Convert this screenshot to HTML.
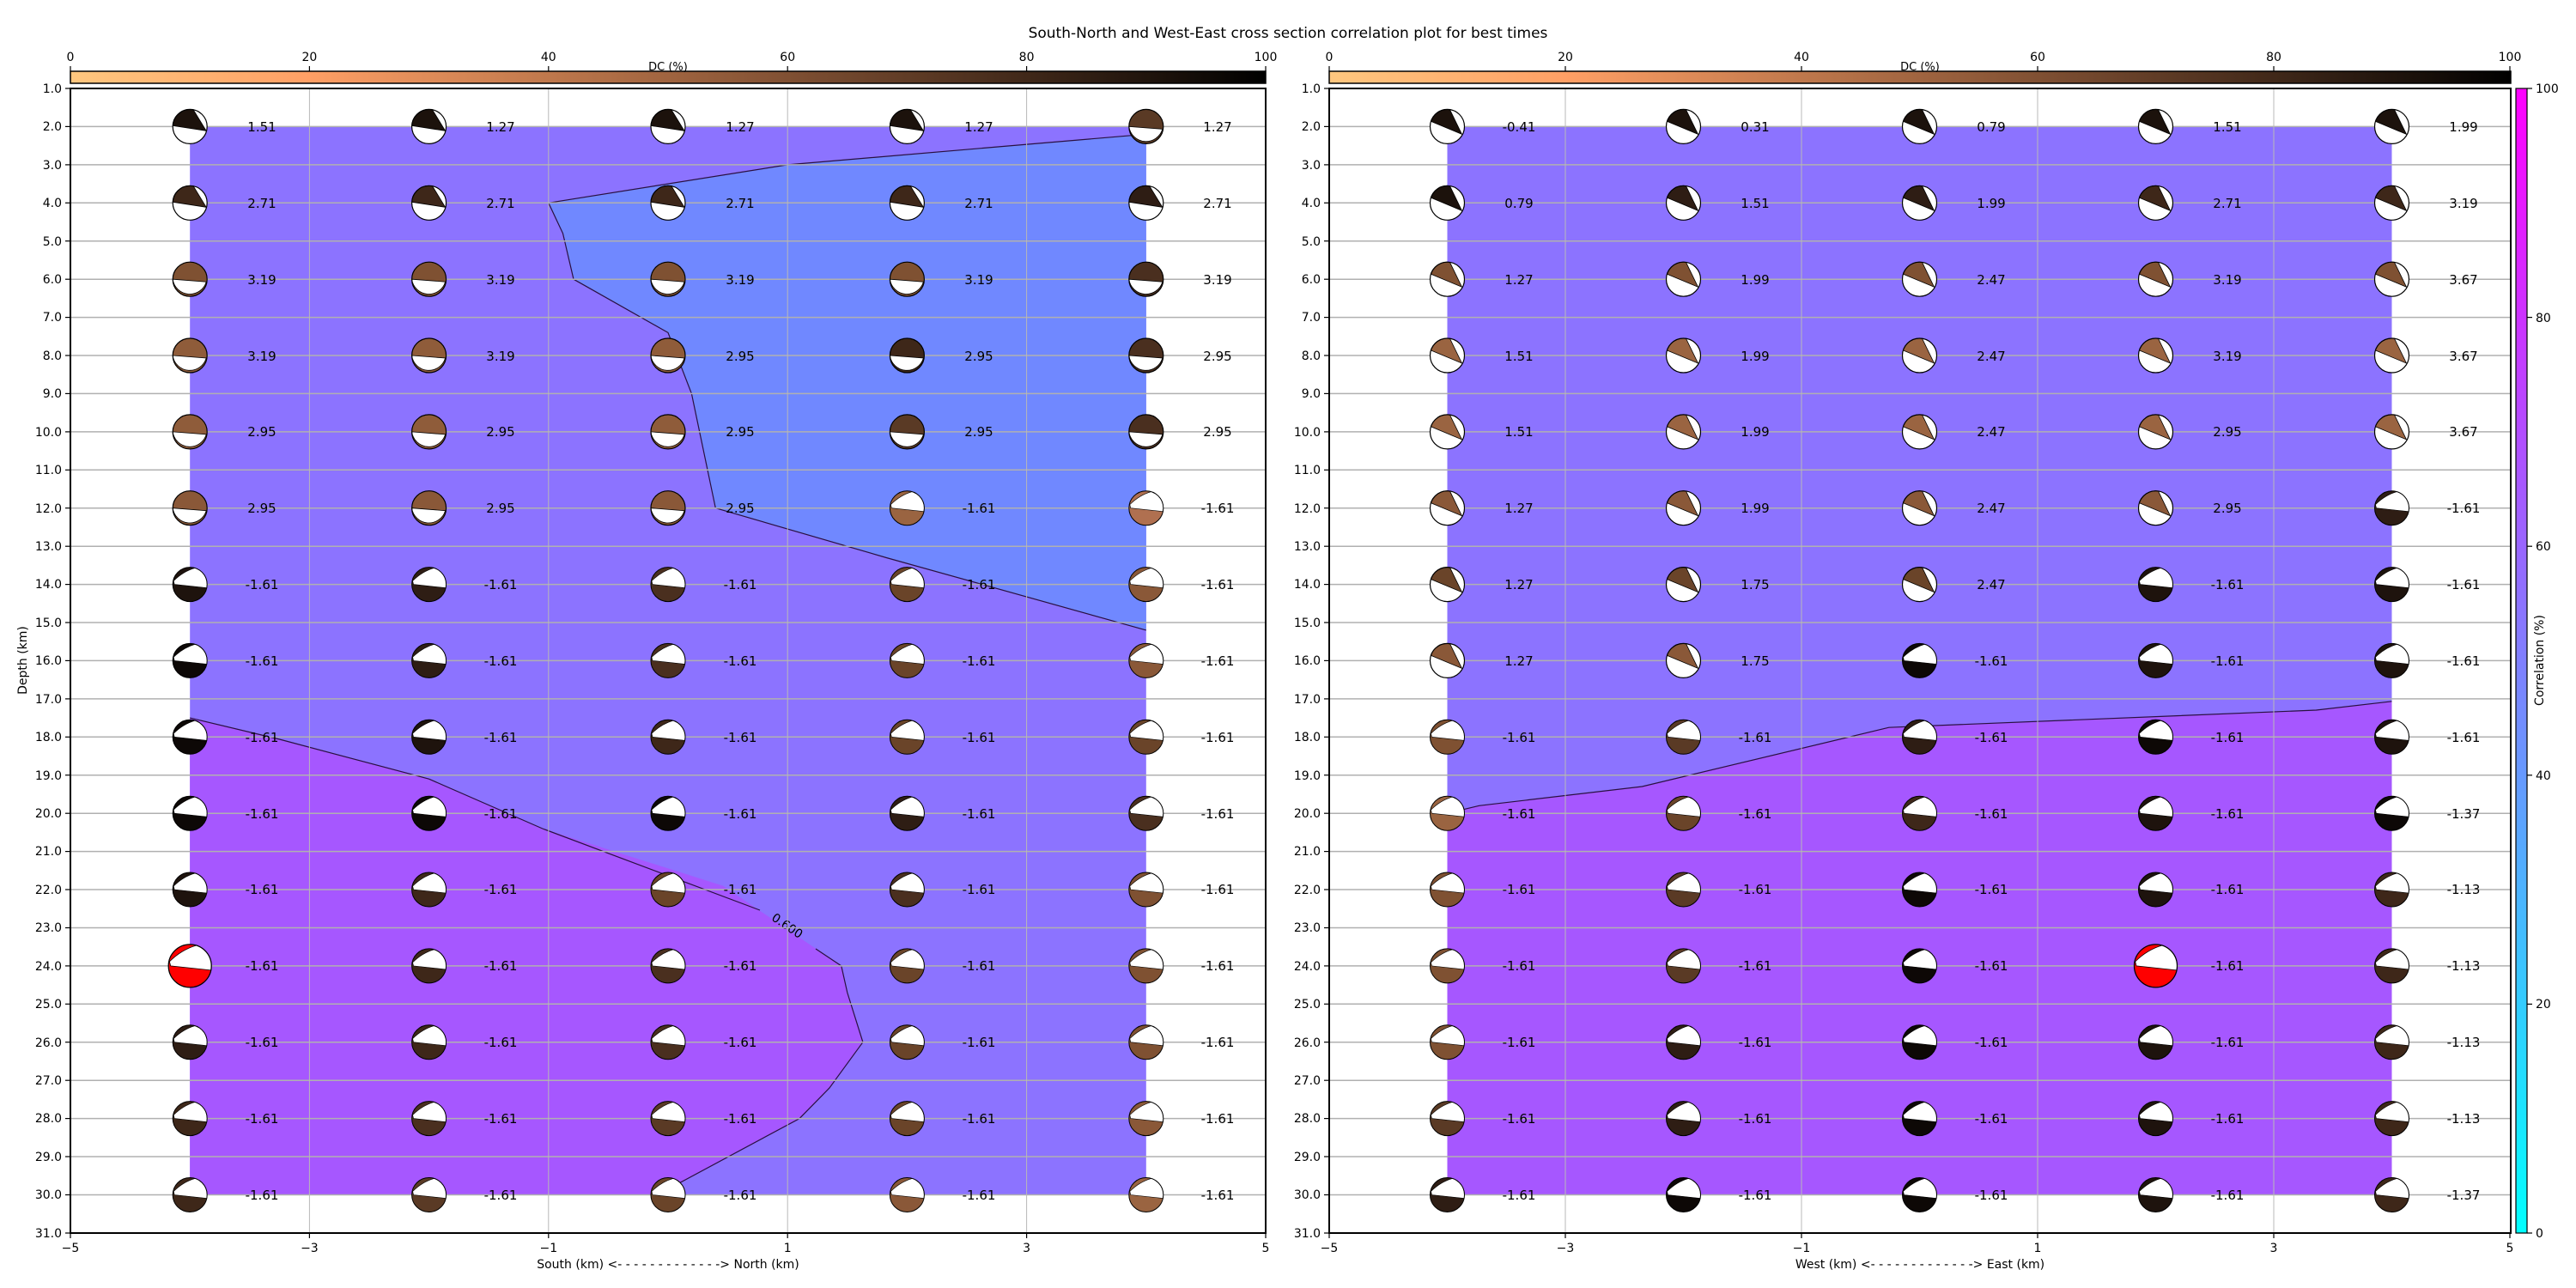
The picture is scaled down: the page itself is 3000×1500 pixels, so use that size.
<!DOCTYPE html>
<html><head><meta charset="utf-8"><style>
html,body{margin:0;padding:0;background:#fff}
svg{display:block}
text{font-family:"DejaVu Sans","Liberation Sans",sans-serif;fill:#000}
</style></head><body>
<svg width="3000" height="1500" viewBox="0 0 3000 1500" xmlns="http://www.w3.org/2000/svg">
<defs>
<linearGradient id="copper" x1="0" x2="1" y1="0" y2="0">
<stop offset="0" stop-color="#ffc77f"/><stop offset="0.2" stop-color="#ff9f65"/><stop offset="0.4" stop-color="#bf784c"/><stop offset="0.6" stop-color="#805033"/><stop offset="0.8" stop-color="#402819"/><stop offset="1" stop-color="#000"/>
</linearGradient>
<linearGradient id="cool" x1="0" x2="0" y1="1" y2="0">
<stop offset="0" stop-color="#00ffff"/><stop offset="1" stop-color="#ff00ff"/>
</linearGradient>
<g id="A"><circle r="20" fill="#fff"/><path d="M-20,-1 L19,5 L4,-19.6 A20,20 0 0,0 -20,-1Z" fill="currentColor" stroke="#000" stroke-width="0.8"/><circle r="20" fill="none" stroke="#000" stroke-width="1.2"/></g>
<g id="E"><circle r="20" fill="#fff"/><path d="M-19,-6 L17,9 L3,-19.8 A20,20 0 0,0 -19,-6Z" fill="currentColor" stroke="#000" stroke-width="0.8"/><circle r="20" fill="none" stroke="#000" stroke-width="1.2"/></g>
<g id="B"><circle r="20" fill="currentColor"/><path d="M-20,0 L19,3 A20,20 0 0,1 -20,0Z" fill="#fff" stroke="#000" stroke-width="0.8"/><circle r="20" fill="none" stroke="#000" stroke-width="1.2"/></g>
<g id="C"><circle r="20" fill="currentColor"/><path d="M-19,-4 Q-8,-15 6,-19.1 A20,20 0 0,1 19.6,4 L-18,0 Z" fill="#fff" stroke="#000" stroke-width="0.6"/><circle r="20" fill="none" stroke="#000" stroke-width="1"/></g>
</defs>

<text x="1500" y="44" font-size="17" text-anchor="middle">South-North and West-East cross section correlation plot for best times</text>

<!-- ===== LEFT PLOT ===== -->
<rect x="221.2" y="147.4" width="1113.6" height="1244.1" fill="#8c73ff"/>
<polygon points="638.8,236.3 917.2,191.9 1334.8,156.3 1334.8,733.9 1032.3,649.5 833.3,591.7 805.4,458.4 778,387.4 668,325.2 655.5,271.8" fill="#7088ff"/>
<polygon points="221.2,836.1 325.6,861 499.6,907.2 631.8,965 842,1031.6 979.8,1124.9 986.8,1156 1004.9,1213.7 965.9,1267.1 931.1,1302.6 790.5,1378.1 778,1391.5 221.2,1391.5" fill="#a657ff"/>
<g fill="none" stroke="#2a1040" stroke-width="1.2">
<polyline points="638.8,236.3 917.2,191.9 1334.8,156.3"/>
<polyline points="638.8,236.3 655.5,271.8 668,325.2 778,387.4 805.4,458.4 833.3,591.7 1032.3,649.5 1334.8,733.9"/>
<polyline points="221.2,836.1 325.6,861 499.6,907.2 631.8,965 885,1060"/>
<polyline points="950,1105 979.8,1124.9 986.8,1156 1004.9,1213.7 965.9,1267.1 931.1,1302.6 790.5,1378.1 778,1391.5"/>
</g>
<text x="917" y="1083" font-size="14" text-anchor="middle" transform="rotate(34 917 1078)">0.600</text>
<!-- grid -->
<g stroke="#b0b0b0" stroke-width="1.5">
<line x1="82" x2="1474" y1="147.4" y2="147.4"/><line x1="82" x2="1474" y1="191.9" y2="191.9"/><line x1="82" x2="1474" y1="236.3" y2="236.3"/><line x1="82" x2="1474" y1="280.7" y2="280.7"/><line x1="82" x2="1474" y1="325.2" y2="325.2"/><line x1="82" x2="1474" y1="369.6" y2="369.6"/><line x1="82" x2="1474" y1="414" y2="414"/><line x1="82" x2="1474" y1="458.4" y2="458.4"/><line x1="82" x2="1474" y1="502.9" y2="502.9"/><line x1="82" x2="1474" y1="547.3" y2="547.3"/><line x1="82" x2="1474" y1="591.7" y2="591.7"/><line x1="82" x2="1474" y1="636.2" y2="636.2"/><line x1="82" x2="1474" y1="680.6" y2="680.6"/><line x1="82" x2="1474" y1="725" y2="725"/><line x1="82" x2="1474" y1="769.4" y2="769.4"/><line x1="82" x2="1474" y1="813.9" y2="813.9"/><line x1="82" x2="1474" y1="858.3" y2="858.3"/><line x1="82" x2="1474" y1="902.7" y2="902.7"/><line x1="82" x2="1474" y1="947.2" y2="947.2"/><line x1="82" x2="1474" y1="991.6" y2="991.6"/><line x1="82" x2="1474" y1="1036" y2="1036"/><line x1="82" x2="1474" y1="1080.5" y2="1080.5"/><line x1="82" x2="1474" y1="1124.9" y2="1124.9"/><line x1="82" x2="1474" y1="1169.3" y2="1169.3"/><line x1="82" x2="1474" y1="1213.7" y2="1213.7"/><line x1="82" x2="1474" y1="1258.2" y2="1258.2"/><line x1="82" x2="1474" y1="1302.6" y2="1302.6"/><line x1="82" x2="1474" y1="1347" y2="1347"/><line x1="82" x2="1474" y1="1391.5" y2="1391.5"/>
</g>
<g stroke="#b8b8b8" stroke-width="1">
<line x1="360.4" x2="360.4" y1="103" y2="1436"/><line x1="638.8" x2="638.8" y1="103" y2="1436"/><line x1="917.2" x2="917.2" y1="103" y2="1436"/><line x1="1195.6" x2="1195.6" y1="103" y2="1436"/>
</g>
<!-- balls left -->
<use href="#A" x="221.2" y="147.4" style="color:#1c120c"/><use href="#A" x="499.6" y="147.4" style="color:#1c120c"/><use href="#A" x="778" y="147.4" style="color:#1c120c"/><use href="#A" x="1056.4" y="147.4" style="color:#1c120c"/><use href="#B" x="1334.8" y="147.4" style="color:#5a3a25"/>
<use href="#A" x="221.2" y="236.3" style="color:#3e2719"/><use href="#A" x="499.6" y="236.3" style="color:#3e2719"/><use href="#A" x="778" y="236.3" style="color:#3e2719"/><use href="#A" x="1056.4" y="236.3" style="color:#3e2719"/><use href="#A" x="1334.8" y="236.3" style="color:#2e1d14"/>
<use href="#B" x="221.2" y="325.2" style="color:#7f5132"/><use href="#B" x="499.6" y="325.2" style="color:#7f5132"/><use href="#B" x="778" y="325.2" style="color:#7f5132"/><use href="#B" x="1056.4" y="325.2" style="color:#7f5132"/><use href="#B" x="1334.8" y="325.2" style="color:#4a2f1f"/>
<use href="#B" x="221.2" y="414" style="color:#8f5c3a"/><use href="#B" x="499.6" y="414" style="color:#8f5c3a"/><use href="#B" x="778" y="414" style="color:#8f5c3a"/><use href="#B" x="1056.4" y="414" style="color:#3e2719"/><use href="#B" x="1334.8" y="414" style="color:#4a2f1f"/>
<use href="#B" x="221.2" y="502.9" style="color:#8f5c3a"/><use href="#B" x="499.6" y="502.9" style="color:#8f5c3a"/><use href="#B" x="778" y="502.9" style="color:#8f5c3a"/><use href="#B" x="1056.4" y="502.9" style="color:#5a3a25"/><use href="#B" x="1334.8" y="502.9" style="color:#4a2f1f"/>
<use href="#B" x="221.2" y="591.7" style="color:#8a5838"/><use href="#B" x="499.6" y="591.7" style="color:#8a5838"/><use href="#B" x="778" y="591.7" style="color:#8a5838"/><use href="#C" x="1056.4" y="591.7" style="color:#9a6441"/><use href="#C" x="1334.8" y="591.7" style="color:#b07050"/>
<use href="#C" x="221.2" y="680.6" style="color:#1e130d"/><use href="#C" x="499.6" y="680.6" style="color:#2e1d14"/><use href="#C" x="778" y="680.6" style="color:#4a2f1f"/><use href="#C" x="1056.4" y="680.6" style="color:#6a4429"/><use href="#C" x="1334.8" y="680.6" style="color:#8a5838"/>
<use href="#C" x="221.2" y="769.4" style="color:#0d0806"/><use href="#C" x="499.6" y="769.4" style="color:#2e1d14"/><use href="#C" x="778" y="769.4" style="color:#4a2f1f"/><use href="#C" x="1056.4" y="769.4" style="color:#6a4429"/><use href="#C" x="1334.8" y="769.4" style="color:#8a5838"/>
<use href="#C" x="221.2" y="858.3" style="color:#0d0806"/><use href="#C" x="499.6" y="858.3" style="color:#1e130d"/><use href="#C" x="778" y="858.3" style="color:#3e2719"/><use href="#C" x="1056.4" y="858.3" style="color:#6a4429"/><use href="#C" x="1334.8" y="858.3" style="color:#6a4429"/>
<use href="#C" x="221.2" y="947.2" style="color:#0d0806"/><use href="#C" x="499.6" y="947.2" style="color:#0d0806"/><use href="#C" x="778" y="947.2" style="color:#0d0806"/><use href="#C" x="1056.4" y="947.2" style="color:#2e1d14"/><use href="#C" x="1334.8" y="947.2" style="color:#4a2f1f"/>
<use href="#C" x="221.2" y="1036" style="color:#1e130d"/><use href="#C" x="499.6" y="1036" style="color:#3e2719"/><use href="#C" x="778" y="1036" style="color:#6a4429"/><use href="#C" x="1056.4" y="1036" style="color:#4a2f1f"/><use href="#C" x="1334.8" y="1036" style="color:#7f5132"/>
<use href="#C" transform="translate(221.2 1124.9) scale(1.25)" style="color:#ff0000"/><use href="#C" x="499.6" y="1124.9" style="color:#3e2719"/><use href="#C" x="778" y="1124.9" style="color:#4a2f1f"/><use href="#C" x="1056.4" y="1124.9" style="color:#6a4429"/><use href="#C" x="1334.8" y="1124.9" style="color:#7f5132"/>
<use href="#C" x="221.2" y="1213.7" style="color:#2e1d14"/><use href="#C" x="499.6" y="1213.7" style="color:#3e2719"/><use href="#C" x="778" y="1213.7" style="color:#4a2f1f"/><use href="#C" x="1056.4" y="1213.7" style="color:#6a4429"/><use href="#C" x="1334.8" y="1213.7" style="color:#7f5132"/>
<use href="#C" x="221.2" y="1302.6" style="color:#3e2719"/><use href="#C" x="499.6" y="1302.6" style="color:#4a2f1f"/><use href="#C" x="778" y="1302.6" style="color:#5a3a25"/><use href="#C" x="1056.4" y="1302.6" style="color:#6a4429"/><use href="#C" x="1334.8" y="1302.6" style="color:#8a5838"/>
<use href="#C" x="221.2" y="1391.5" style="color:#3e2719"/><use href="#C" x="499.6" y="1391.5" style="color:#5a3a25"/><use href="#C" x="778" y="1391.5" style="color:#6a4429"/><use href="#C" x="1056.4" y="1391.5" style="color:#8a5838"/><use href="#C" x="1334.8" y="1391.5" style="color:#9a6441"/>
<!-- labels left -->
<g font-size="15" text-anchor="middle">
<text x="305" y="153">1.51</text><text x="583" y="153">1.27</text><text x="862" y="153">1.27</text><text x="1140" y="153">1.27</text><text x="1418" y="153">1.27</text>
<text x="305" y="242">2.71</text><text x="583" y="242">2.71</text><text x="862" y="242">2.71</text><text x="1140" y="242">2.71</text><text x="1418" y="242">2.71</text>
<text x="305" y="331">3.19</text><text x="583" y="331">3.19</text><text x="862" y="331">3.19</text><text x="1140" y="331">3.19</text><text x="1418" y="331">3.19</text>
<text x="305" y="420">3.19</text><text x="583" y="420">3.19</text><text x="862" y="420">2.95</text><text x="1140" y="420">2.95</text><text x="1418" y="420">2.95</text>
<text x="305" y="508">2.95</text><text x="583" y="508">2.95</text><text x="862" y="508">2.95</text><text x="1140" y="508">2.95</text><text x="1418" y="508">2.95</text>
<text x="305" y="597">2.95</text><text x="583" y="597">2.95</text><text x="862" y="597">2.95</text><text x="1140" y="597">-1.61</text><text x="1418" y="597">-1.61</text>
<text x="305" y="686">-1.61</text><text x="583" y="686">-1.61</text><text x="862" y="686">-1.61</text><text x="1140" y="686">-1.61</text><text x="1418" y="686">-1.61</text>
<text x="305" y="775">-1.61</text><text x="583" y="775">-1.61</text><text x="862" y="775">-1.61</text><text x="1140" y="775">-1.61</text><text x="1418" y="775">-1.61</text>
<text x="305" y="864">-1.61</text><text x="583" y="864">-1.61</text><text x="862" y="864">-1.61</text><text x="1140" y="864">-1.61</text><text x="1418" y="864">-1.61</text>
<text x="305" y="953">-1.61</text><text x="583" y="953">-1.61</text><text x="862" y="953">-1.61</text><text x="1140" y="953">-1.61</text><text x="1418" y="953">-1.61</text>
<text x="305" y="1041">-1.61</text><text x="583" y="1041">-1.61</text><text x="862" y="1041">-1.61</text><text x="1140" y="1041">-1.61</text><text x="1418" y="1041">-1.61</text>
<text x="305" y="1130">-1.61</text><text x="583" y="1130">-1.61</text><text x="862" y="1130">-1.61</text><text x="1140" y="1130">-1.61</text><text x="1418" y="1130">-1.61</text>
<text x="305" y="1219">-1.61</text><text x="583" y="1219">-1.61</text><text x="862" y="1219">-1.61</text><text x="1140" y="1219">-1.61</text><text x="1418" y="1219">-1.61</text>
<text x="305" y="1308">-1.61</text><text x="583" y="1308">-1.61</text><text x="862" y="1308">-1.61</text><text x="1140" y="1308">-1.61</text><text x="1418" y="1308">-1.61</text>
<text x="305" y="1397">-1.61</text><text x="583" y="1397">-1.61</text><text x="862" y="1397">-1.61</text><text x="1140" y="1397">-1.61</text><text x="1418" y="1397">-1.61</text>
</g>
<rect x="82" y="103" width="1392" height="1333" fill="none" stroke="#000" stroke-width="2"/>
<!-- left DC colorbar -->
<rect x="82" y="83" width="1392" height="14" fill="url(#copper)" stroke="#000" stroke-width="1.5"/>
<g stroke="#000" stroke-width="1.2"><line x1="82" x2="82" y1="77" y2="83"/><line x1="360.4" x2="360.4" y1="77" y2="83"/><line x1="638.8" x2="638.8" y1="77" y2="83"/><line x1="917.2" x2="917.2" y1="77" y2="83"/><line x1="1195.6" x2="1195.6" y1="77" y2="83"/><line x1="1474" x2="1474" y1="77" y2="83"/></g>
<g font-size="14" text-anchor="middle"><text x="82" y="71">0</text><text x="360.4" y="71">20</text><text x="638.8" y="71">40</text><text x="917.2" y="71">60</text><text x="1195.6" y="71">80</text><text x="1474" y="71">100</text></g>
<text x="778" y="82" font-size="13" text-anchor="middle">DC (%)</text>
<!-- left y ticks -->
<g stroke="#000" stroke-width="1.2">
<line x1="76" x2="82" y1="103" y2="103"/><line x1="76" x2="82" y1="147.4" y2="147.4"/><line x1="76" x2="82" y1="191.9" y2="191.9"/><line x1="76" x2="82" y1="236.3" y2="236.3"/><line x1="76" x2="82" y1="280.7" y2="280.7"/><line x1="76" x2="82" y1="325.2" y2="325.2"/><line x1="76" x2="82" y1="369.6" y2="369.6"/><line x1="76" x2="82" y1="414" y2="414"/><line x1="76" x2="82" y1="458.4" y2="458.4"/><line x1="76" x2="82" y1="502.9" y2="502.9"/><line x1="76" x2="82" y1="547.3" y2="547.3"/><line x1="76" x2="82" y1="591.7" y2="591.7"/><line x1="76" x2="82" y1="636.2" y2="636.2"/><line x1="76" x2="82" y1="680.6" y2="680.6"/><line x1="76" x2="82" y1="725" y2="725"/><line x1="76" x2="82" y1="769.4" y2="769.4"/><line x1="76" x2="82" y1="813.9" y2="813.9"/><line x1="76" x2="82" y1="858.3" y2="858.3"/><line x1="76" x2="82" y1="902.7" y2="902.7"/><line x1="76" x2="82" y1="947.2" y2="947.2"/><line x1="76" x2="82" y1="991.6" y2="991.6"/><line x1="76" x2="82" y1="1036" y2="1036"/><line x1="76" x2="82" y1="1080.5" y2="1080.5"/><line x1="76" x2="82" y1="1124.9" y2="1124.9"/><line x1="76" x2="82" y1="1169.3" y2="1169.3"/><line x1="76" x2="82" y1="1213.7" y2="1213.7"/><line x1="76" x2="82" y1="1258.2" y2="1258.2"/><line x1="76" x2="82" y1="1302.6" y2="1302.6"/><line x1="76" x2="82" y1="1347" y2="1347"/><line x1="76" x2="82" y1="1391.5" y2="1391.5"/><line x1="76" x2="82" y1="1436" y2="1436"/>
<line x1="82" x2="82" y1="1436" y2="1442"/><line x1="360.4" x2="360.4" y1="1436" y2="1442"/><line x1="638.8" x2="638.8" y1="1436" y2="1442"/><line x1="917.2" x2="917.2" y1="1436" y2="1442"/><line x1="1195.6" x2="1195.6" y1="1436" y2="1442"/><line x1="1474" x2="1474" y1="1436" y2="1442"/>
</g>
<g font-size="14" text-anchor="end">
<text x="72" y="108">1.0</text><text x="72" y="152">2.0</text><text x="72" y="197">3.0</text><text x="72" y="241">4.0</text><text x="72" y="286">5.0</text><text x="72" y="330">6.0</text><text x="72" y="374">7.0</text><text x="72" y="419">8.0</text><text x="72" y="463">9.0</text><text x="72" y="508">10.0</text><text x="72" y="552">11.0</text><text x="72" y="597">12.0</text><text x="72" y="641">13.0</text><text x="72" y="685">14.0</text><text x="72" y="730">15.0</text><text x="72" y="774">16.0</text><text x="72" y="819">17.0</text><text x="72" y="863">18.0</text><text x="72" y="908">19.0</text><text x="72" y="952">20.0</text><text x="72" y="996">21.0</text><text x="72" y="1041">22.0</text><text x="72" y="1085">23.0</text><text x="72" y="1130">24.0</text><text x="72" y="1174">25.0</text><text x="72" y="1219">26.0</text><text x="72" y="1263">27.0</text><text x="72" y="1307">28.0</text><text x="72" y="1352">29.0</text><text x="72" y="1396">30.0</text><text x="72" y="1441">31.0</text>
</g>
<g font-size="14" text-anchor="middle"><text x="82" y="1458">−5</text><text x="360.4" y="1458">−3</text><text x="638.8" y="1458">−1</text><text x="917.2" y="1458">1</text><text x="1195.6" y="1458">3</text><text x="1474" y="1458">5</text></g>
<text x="778" y="1477" font-size="14" text-anchor="middle">South (km) &lt;- - - - - - - - - - - - -&gt; North (km)</text>
<text x="0" y="0" font-size="14" text-anchor="middle" transform="translate(31 769) rotate(-90)">Depth (km)</text>

<!-- ===== RIGHT PLOT ===== -->
<rect x="1685.5" y="147.4" width="1100" height="1244.1" fill="#8c73ff"/>
<polygon points="1685.5,947.2 1722.6,938.3 1912.4,916 2199.8,847.2 2697.5,827 2785.5,816.8 2785.5,1391.5 1685.5,1391.5" fill="#a657ff"/>
<polyline points="1685.5,947.2 1722.6,938.3 1912.4,916 2199.8,847.2 2697.5,827 2785.5,816.8" fill="none" stroke="#2a1040" stroke-width="1.2"/>
<g stroke="#b0b0b0" stroke-width="1.5">
<line x1="1548" x2="2924" y1="147.4" y2="147.4"/><line x1="1548" x2="2924" y1="191.9" y2="191.9"/><line x1="1548" x2="2924" y1="236.3" y2="236.3"/><line x1="1548" x2="2924" y1="280.7" y2="280.7"/><line x1="1548" x2="2924" y1="325.2" y2="325.2"/><line x1="1548" x2="2924" y1="369.6" y2="369.6"/><line x1="1548" x2="2924" y1="414" y2="414"/><line x1="1548" x2="2924" y1="458.4" y2="458.4"/><line x1="1548" x2="2924" y1="502.9" y2="502.9"/><line x1="1548" x2="2924" y1="547.3" y2="547.3"/><line x1="1548" x2="2924" y1="591.7" y2="591.7"/><line x1="1548" x2="2924" y1="636.2" y2="636.2"/><line x1="1548" x2="2924" y1="680.6" y2="680.6"/><line x1="1548" x2="2924" y1="725" y2="725"/><line x1="1548" x2="2924" y1="769.4" y2="769.4"/><line x1="1548" x2="2924" y1="813.9" y2="813.9"/><line x1="1548" x2="2924" y1="858.3" y2="858.3"/><line x1="1548" x2="2924" y1="902.7" y2="902.7"/><line x1="1548" x2="2924" y1="947.2" y2="947.2"/><line x1="1548" x2="2924" y1="991.6" y2="991.6"/><line x1="1548" x2="2924" y1="1036" y2="1036"/><line x1="1548" x2="2924" y1="1080.5" y2="1080.5"/><line x1="1548" x2="2924" y1="1124.9" y2="1124.9"/><line x1="1548" x2="2924" y1="1169.3" y2="1169.3"/><line x1="1548" x2="2924" y1="1213.7" y2="1213.7"/><line x1="1548" x2="2924" y1="1258.2" y2="1258.2"/><line x1="1548" x2="2924" y1="1302.6" y2="1302.6"/><line x1="1548" x2="2924" y1="1347" y2="1347"/><line x1="1548" x2="2924" y1="1391.5" y2="1391.5"/>
</g>
<g stroke="#b8b8b8" stroke-width="1">
<line x1="1823" x2="1823" y1="103" y2="1436"/><line x1="2098" x2="2098" y1="103" y2="1436"/><line x1="2373" x2="2373" y1="103" y2="1436"/><line x1="2648" x2="2648" y1="103" y2="1436"/>
</g>
<!-- balls right -->
<use href="#E" x="1685.5" y="147.4" style="color:#1c120c"/><use href="#E" x="1960.5" y="147.4" style="color:#1c120c"/><use href="#E" x="2235.5" y="147.4" style="color:#1c120c"/><use href="#E" x="2510.5" y="147.4" style="color:#1c120c"/><use href="#E" x="2785.5" y="147.4" style="color:#1c120c"/>
<use href="#E" x="1685.5" y="236.3" style="color:#1c120c"/><use href="#E" x="1960.5" y="236.3" style="color:#2e1d14"/><use href="#E" x="2235.5" y="236.3" style="color:#2e1d14"/><use href="#E" x="2510.5" y="236.3" style="color:#3e2719"/><use href="#E" x="2785.5" y="236.3" style="color:#3e2719"/>
<use href="#E" x="1685.5" y="325.2" style="color:#7f5132"/><use href="#E" x="1960.5" y="325.2" style="color:#7f5132"/><use href="#E" x="2235.5" y="325.2" style="color:#7f5132"/><use href="#E" x="2510.5" y="325.2" style="color:#7f5132"/><use href="#E" x="2785.5" y="325.2" style="color:#7f5132"/>
<use href="#E" x="1685.5" y="414" style="color:#9a6441"/><use href="#E" x="1960.5" y="414" style="color:#9a6441"/><use href="#E" x="2235.5" y="414" style="color:#9a6441"/><use href="#E" x="2510.5" y="414" style="color:#9a6441"/><use href="#E" x="2785.5" y="414" style="color:#9a6441"/>
<use href="#E" x="1685.5" y="502.9" style="color:#9a6441"/><use href="#E" x="1960.5" y="502.9" style="color:#9a6441"/><use href="#E" x="2235.5" y="502.9" style="color:#9a6441"/><use href="#E" x="2510.5" y="502.9" style="color:#9a6441"/><use href="#E" x="2785.5" y="502.9" style="color:#9a6441"/>
<use href="#E" x="1685.5" y="591.7" style="color:#8a5838"/><use href="#E" x="1960.5" y="591.7" style="color:#8a5838"/><use href="#E" x="2235.5" y="591.7" style="color:#8a5838"/><use href="#E" x="2510.5" y="591.7" style="color:#8a5838"/><use href="#C" x="2785.5" y="591.7" style="color:#2e1d14"/>
<use href="#E" x="1685.5" y="680.6" style="color:#6a4429"/><use href="#E" x="1960.5" y="680.6" style="color:#6a4429"/><use href="#E" x="2235.5" y="680.6" style="color:#6a4429"/><use href="#C" x="2510.5" y="680.6" style="color:#1e130d"/><use href="#C" x="2785.5" y="680.6" style="color:#1e130d"/>
<use href="#E" x="1685.5" y="769.4" style="color:#8a5838"/><use href="#E" x="1960.5" y="769.4" style="color:#8a5838"/><use href="#C" x="2235.5" y="769.4" style="color:#0d0806"/><use href="#C" x="2510.5" y="769.4" style="color:#1e130d"/><use href="#C" x="2785.5" y="769.4" style="color:#1e130d"/>
<use href="#C" x="1685.5" y="858.3" style="color:#7f5132"/><use href="#C" x="1960.5" y="858.3" style="color:#5a3a25"/><use href="#C" x="2235.5" y="858.3" style="color:#2e1d14"/><use href="#C" x="2510.5" y="858.3" style="color:#0d0806"/><use href="#C" x="2785.5" y="858.3" style="color:#1e130d"/>
<use href="#C" x="1685.5" y="947.2" style="color:#9a6441"/><use href="#C" x="1960.5" y="947.2" style="color:#6a4429"/><use href="#C" x="2235.5" y="947.2" style="color:#3e2719"/><use href="#C" x="2510.5" y="947.2" style="color:#1e130d"/><use href="#C" x="2785.5" y="947.2" style="color:#0d0806"/>
<use href="#C" x="1685.5" y="1036" style="color:#7f5132"/><use href="#C" x="1960.5" y="1036" style="color:#5a3a25"/><use href="#C" x="2235.5" y="1036" style="color:#0d0806"/><use href="#C" x="2510.5" y="1036" style="color:#1e130d"/><use href="#C" x="2785.5" y="1036" style="color:#3e2719"/>
<use href="#C" x="1685.5" y="1124.9" style="color:#7f5132"/><use href="#C" x="1960.5" y="1124.9" style="color:#5a3a25"/><use href="#C" x="2235.5" y="1124.9" style="color:#0d0806"/><use href="#C" transform="translate(2510.5 1124.9) scale(1.25)" style="color:#ff0000"/><use href="#C" x="2785.5" y="1124.9" style="color:#3e2719"/>
<use href="#C" x="1685.5" y="1213.7" style="color:#7f5132"/><use href="#C" x="1960.5" y="1213.7" style="color:#2e1d14"/><use href="#C" x="2235.5" y="1213.7" style="color:#0d0806"/><use href="#C" x="2510.5" y="1213.7" style="color:#1e130d"/><use href="#C" x="2785.5" y="1213.7" style="color:#3e2719"/>
<use href="#C" x="1685.5" y="1302.6" style="color:#5a3a25"/><use href="#C" x="1960.5" y="1302.6" style="color:#2e1d14"/><use href="#C" x="2235.5" y="1302.6" style="color:#0d0806"/><use href="#C" x="2510.5" y="1302.6" style="color:#1e130d"/><use href="#C" x="2785.5" y="1302.6" style="color:#3e2719"/>
<use href="#C" x="1685.5" y="1391.5" style="color:#2e1d14"/><use href="#C" x="1960.5" y="1391.5" style="color:#0d0806"/><use href="#C" x="2235.5" y="1391.5" style="color:#0d0806"/><use href="#C" x="2510.5" y="1391.5" style="color:#1e130d"/><use href="#C" x="2785.5" y="1391.5" style="color:#3e2719"/>
<!-- labels right -->
<g font-size="15" text-anchor="middle">
<text x="1769" y="153">-0.41</text><text x="2044" y="153">0.31</text><text x="2319" y="153">0.79</text><text x="2594" y="153">1.51</text><text x="2869" y="153">1.99</text>
<text x="1769" y="242">0.79</text><text x="2044" y="242">1.51</text><text x="2319" y="242">1.99</text><text x="2594" y="242">2.71</text><text x="2869" y="242">3.19</text>
<text x="1769" y="331">1.27</text><text x="2044" y="331">1.99</text><text x="2319" y="331">2.47</text><text x="2594" y="331">3.19</text><text x="2869" y="331">3.67</text>
<text x="1769" y="420">1.51</text><text x="2044" y="420">1.99</text><text x="2319" y="420">2.47</text><text x="2594" y="420">3.19</text><text x="2869" y="420">3.67</text>
<text x="1769" y="508">1.51</text><text x="2044" y="508">1.99</text><text x="2319" y="508">2.47</text><text x="2594" y="508">2.95</text><text x="2869" y="508">3.67</text>
<text x="1769" y="597">1.27</text><text x="2044" y="597">1.99</text><text x="2319" y="597">2.47</text><text x="2594" y="597">2.95</text><text x="2869" y="597">-1.61</text>
<text x="1769" y="686">1.27</text><text x="2044" y="686">1.75</text><text x="2319" y="686">2.47</text><text x="2594" y="686">-1.61</text><text x="2869" y="686">-1.61</text>
<text x="1769" y="775">1.27</text><text x="2044" y="775">1.75</text><text x="2319" y="775">-1.61</text><text x="2594" y="775">-1.61</text><text x="2869" y="775">-1.61</text>
<text x="1769" y="864">-1.61</text><text x="2044" y="864">-1.61</text><text x="2319" y="864">-1.61</text><text x="2594" y="864">-1.61</text><text x="2869" y="864">-1.61</text>
<text x="1769" y="953">-1.61</text><text x="2044" y="953">-1.61</text><text x="2319" y="953">-1.61</text><text x="2594" y="953">-1.61</text><text x="2869" y="953">-1.37</text>
<text x="1769" y="1041">-1.61</text><text x="2044" y="1041">-1.61</text><text x="2319" y="1041">-1.61</text><text x="2594" y="1041">-1.61</text><text x="2869" y="1041">-1.13</text>
<text x="1769" y="1130">-1.61</text><text x="2044" y="1130">-1.61</text><text x="2319" y="1130">-1.61</text><text x="2594" y="1130">-1.61</text><text x="2869" y="1130">-1.13</text>
<text x="1769" y="1219">-1.61</text><text x="2044" y="1219">-1.61</text><text x="2319" y="1219">-1.61</text><text x="2594" y="1219">-1.61</text><text x="2869" y="1219">-1.13</text>
<text x="1769" y="1308">-1.61</text><text x="2044" y="1308">-1.61</text><text x="2319" y="1308">-1.61</text><text x="2594" y="1308">-1.61</text><text x="2869" y="1308">-1.13</text>
<text x="1769" y="1397">-1.61</text><text x="2044" y="1397">-1.61</text><text x="2319" y="1397">-1.61</text><text x="2594" y="1397">-1.61</text><text x="2869" y="1397">-1.37</text>
</g>
<rect x="1548" y="103" width="1376" height="1333" fill="none" stroke="#000" stroke-width="2"/>
<!-- right DC colorbar -->
<rect x="1548" y="83" width="1376" height="14" fill="url(#copper)" stroke="#000" stroke-width="1.5"/>
<g stroke="#000" stroke-width="1.2"><line x1="1548" x2="1548" y1="77" y2="83"/><line x1="1823" x2="1823" y1="77" y2="83"/><line x1="2098" x2="2098" y1="77" y2="83"/><line x1="2373" x2="2373" y1="77" y2="83"/><line x1="2648" x2="2648" y1="77" y2="83"/><line x1="2923" x2="2923" y1="77" y2="83"/></g>
<g font-size="14" text-anchor="middle"><text x="1548" y="71">0</text><text x="1823" y="71">20</text><text x="2098" y="71">40</text><text x="2373" y="71">60</text><text x="2648" y="71">80</text><text x="2923" y="71">100</text></g>
<text x="2236" y="82" font-size="13" text-anchor="middle">DC (%)</text>
<g stroke="#000" stroke-width="1.2">
<line x1="1542" x2="1548" y1="103" y2="103"/><line x1="1542" x2="1548" y1="147.4" y2="147.4"/><line x1="1542" x2="1548" y1="191.9" y2="191.9"/><line x1="1542" x2="1548" y1="236.3" y2="236.3"/><line x1="1542" x2="1548" y1="280.7" y2="280.7"/><line x1="1542" x2="1548" y1="325.2" y2="325.2"/><line x1="1542" x2="1548" y1="369.6" y2="369.6"/><line x1="1542" x2="1548" y1="414" y2="414"/><line x1="1542" x2="1548" y1="458.4" y2="458.4"/><line x1="1542" x2="1548" y1="502.9" y2="502.9"/><line x1="1542" x2="1548" y1="547.3" y2="547.3"/><line x1="1542" x2="1548" y1="591.7" y2="591.7"/><line x1="1542" x2="1548" y1="636.2" y2="636.2"/><line x1="1542" x2="1548" y1="680.6" y2="680.6"/><line x1="1542" x2="1548" y1="725" y2="725"/><line x1="1542" x2="1548" y1="769.4" y2="769.4"/><line x1="1542" x2="1548" y1="813.9" y2="813.9"/><line x1="1542" x2="1548" y1="858.3" y2="858.3"/><line x1="1542" x2="1548" y1="902.7" y2="902.7"/><line x1="1542" x2="1548" y1="947.2" y2="947.2"/><line x1="1542" x2="1548" y1="991.6" y2="991.6"/><line x1="1542" x2="1548" y1="1036" y2="1036"/><line x1="1542" x2="1548" y1="1080.5" y2="1080.5"/><line x1="1542" x2="1548" y1="1124.9" y2="1124.9"/><line x1="1542" x2="1548" y1="1169.3" y2="1169.3"/><line x1="1542" x2="1548" y1="1213.7" y2="1213.7"/><line x1="1542" x2="1548" y1="1258.2" y2="1258.2"/><line x1="1542" x2="1548" y1="1302.6" y2="1302.6"/><line x1="1542" x2="1548" y1="1347" y2="1347"/><line x1="1542" x2="1548" y1="1391.5" y2="1391.5"/><line x1="1542" x2="1548" y1="1436" y2="1436"/>
<line x1="1548" x2="1548" y1="1436" y2="1442"/><line x1="1823" x2="1823" y1="1436" y2="1442"/><line x1="2098" x2="2098" y1="1436" y2="1442"/><line x1="2373" x2="2373" y1="1436" y2="1442"/><line x1="2648" x2="2648" y1="1436" y2="1442"/><line x1="2923" x2="2923" y1="1436" y2="1442"/>
</g>
<g font-size="14" text-anchor="end">
<text x="1538" y="108">1.0</text><text x="1538" y="152">2.0</text><text x="1538" y="197">3.0</text><text x="1538" y="241">4.0</text><text x="1538" y="286">5.0</text><text x="1538" y="330">6.0</text><text x="1538" y="374">7.0</text><text x="1538" y="419">8.0</text><text x="1538" y="463">9.0</text><text x="1538" y="508">10.0</text><text x="1538" y="552">11.0</text><text x="1538" y="597">12.0</text><text x="1538" y="641">13.0</text><text x="1538" y="685">14.0</text><text x="1538" y="730">15.0</text><text x="1538" y="774">16.0</text><text x="1538" y="819">17.0</text><text x="1538" y="863">18.0</text><text x="1538" y="908">19.0</text><text x="1538" y="952">20.0</text><text x="1538" y="996">21.0</text><text x="1538" y="1041">22.0</text><text x="1538" y="1085">23.0</text><text x="1538" y="1130">24.0</text><text x="1538" y="1174">25.0</text><text x="1538" y="1219">26.0</text><text x="1538" y="1263">27.0</text><text x="1538" y="1307">28.0</text><text x="1538" y="1352">29.0</text><text x="1538" y="1396">30.0</text><text x="1538" y="1441">31.0</text>
</g>
<g font-size="14" text-anchor="middle"><text x="1548" y="1458">−5</text><text x="1823" y="1458">−3</text><text x="2098" y="1458">−1</text><text x="2373" y="1458">1</text><text x="2648" y="1458">3</text><text x="2923" y="1458">5</text></g>
<text x="2236" y="1477" font-size="14" text-anchor="middle">West (km) &lt;- - - - - - - - - - - - -&gt; East (km)</text>

<!-- correlation colorbar -->
<rect x="2930" y="103" width="13" height="1333" fill="url(#cool)" stroke="#000" stroke-width="1.2"/>
<g stroke="#000" stroke-width="1.2"><line x1="2943" x2="2949" y1="103" y2="103"/><line x1="2943" x2="2949" y1="369.6" y2="369.6"/><line x1="2943" x2="2949" y1="636.2" y2="636.2"/><line x1="2943" x2="2949" y1="902.8" y2="902.8"/><line x1="2943" x2="2949" y1="1169.4" y2="1169.4"/><line x1="2943" x2="2949" y1="1436" y2="1436"/></g>
<g font-size="14"><text x="2953" y="108">100</text><text x="2953" y="375">80</text><text x="2953" y="641">60</text><text x="2953" y="908">40</text><text x="2953" y="1174">20</text><text x="2953" y="1441">0</text></g>
<text x="0" y="0" font-size="14" text-anchor="middle" transform="translate(2962 769) rotate(-90)">Correlation (%)</text>
</svg>
</body></html>
